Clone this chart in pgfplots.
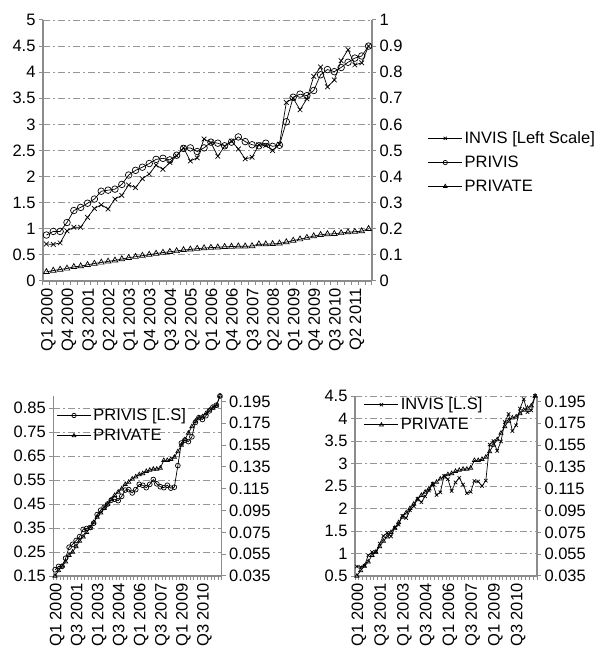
\documentclass[border=0pt]{standalone}
\usepackage{pgfplots}
\usepackage{pgfplotstable}
\pgfplotsset{compat=1.18}
\usepackage{fontspec}
\setmainfont{Liberation Sans}
\newcommand\cf{\fontsize{16.5bp}{19bp}\selectfont}
\definecolor{axgray}{RGB}{140,140,140}
\definecolor{gridgray}{RGB}{150,150,150}

\pgfplotstableread{
i invis privis private
0 0.71 0.176 0.035
1 0.70 0.190 0.040
2 0.73 0.190 0.044
3 0.96 0.224 0.048
4 1.03 0.270 0.054
5 1.03 0.282 0.057
6 1.22 0.298 0.062
7 1.39 0.314 0.067
8 1.46 0.344 0.071
9 1.38 0.348 0.075
10 1.57 0.352 0.079
11 1.64 0.370 0.084
12 1.84 0.406 0.089
13 1.79 0.424 0.093
14 1.96 0.436 0.097
15 2.05 0.450 0.101
16 2.22 0.466 0.105
17 2.14 0.470 0.109
18 2.27 0.464 0.112
19 2.40 0.482 0.115
20 2.55 0.508 0.119
21 2.30 0.510 0.121
22 2.36 0.496 0.124
23 2.72 0.510 0.126
24 2.65 0.532 0.128
25 2.39 0.528 0.129
26 2.58 0.518 0.131
27 2.68 0.532 0.132
28 2.53 0.552 0.133
29 2.34 0.534 0.133
30 2.37 0.522 0.134
31 2.61 0.518 0.141
32 2.60 0.528 0.141
33 2.50 0.516 0.142
34 2.62 0.520 0.144
35 3.42 0.610 0.149
36 3.50 0.704 0.155
37 3.28 0.716 0.160
38 3.49 0.710 0.166
39 3.92 0.730 0.172
40 4.10 0.790 0.177
41 3.72 0.810 0.180
42 3.85 0.802 0.181
43 4.22 0.818 0.184
44 4.43 0.838 0.187
45 4.14 0.854 0.189
46 4.18 0.862 0.191
47 4.50 0.900 0.200
}\data

\pgfplotsset{
  base/.style={
    scale only axis, anchor=south west,
    xmin=-0.5, xmax=47.5,
    axis line style={axgray, line width=1.3bp},
    every tick/.style={axgray, line width=1bp},
    tick align=outside,
    major tick length=4bp,
    tick label style={font=\cf, black},
    /pgf/number format/assume math mode=true,
    clip=false,
  },
  primary/.style={base,
    axis x line*=bottom, axis y line*=left,
    ymajorgrids,
    grid style={gridgray, dash pattern=on 7bp off 3bp on 2bp off 3bp, line width=0.8bp},
    xtick={-0.5,0.5,...,47.5}, xticklabels={},
    extra x tick style={tick style={draw=none}, tick label style={rotate=90, anchor=east, yshift=-2bp}},
  },
  secondary/.style={base,
    axis x line=none, axis y line*=right,
  },
  invis/.style={black, line width=0.7bp, mark=x, mark size=3.3bp, mark options={line width=0.7bp}},
  privis/.style={black, line width=0.7bp, mark=o, mark size=3.3bp, mark options={line width=0.7bp}},
  private/.style={black, line width=0.7bp, mark=triangle, mark size=3.3bp, mark options={line width=0.7bp}},
  lg/.style={legend style={draw=none, fill=none, font=\cf, inner sep=0pt, outer sep=0pt, row sep=3bp},
    legend cell align=left,
    legend image code/.code={\draw[mark repeat=2,mark phase=2,##1, mark size=2.2bp] plot coordinates {(0bp,0bp) (17bp,0bp) (34bp,0bp)};}},
}

\begin{document}
\begin{tikzpicture}
\useasboundingbox (0,0) rectangle (595bp,650bp);
% ---------- top panel ----------
\begin{axis}[primary, at={(43bp,369bp)}, width=329bp, height=261bp,
  ymin=0, ymax=5, ytick={0,0.5,1,1.5,2,2.5,3,3.5,4,4.5,5},
  extra x ticks={0,3,6,9,12,15,18,21,24,27,30,33,36,39,42,45},
  extra x tick labels={Q1 2000,Q4 2000,Q3 2001,Q2 2002,Q1 2003,Q4 2003,Q3 2004,Q2 2005,Q1 2006,Q4 2006,Q3 2007,Q2 2008,Q1 2009,Q4 2009,Q3 2010,Q2 2011}]
\addplot[invis] table[x=i,y=invis]{\data};
\end{axis}
\begin{axis}[secondary, lg, at={(43bp,369bp)}, width=329bp, height=261bp,
  ymin=0, ymax=1, ytick={0,0.1,0.2,0.3,0.4,0.5,0.6,0.7,0.8,0.9,1},
  legend style={at={(1.17,0.58)}, anchor=north west, row sep=7bp}]
\addlegendimage{invis}
\addlegendentry{INVIS [Left Scale]}
\addplot[privis] table[x=i,y=privis]{\data};
\addlegendentry{PRIVIS}
\addplot[private] table[x=i,y=private]{\data};
\addlegendentry{PRIVATE}
\end{axis}
% ---------- bottom left ----------
\begin{axis}[primary, at={(53.3bp,74bp)}, width=168.4bp, height=180bp,
  ymin=0.15, ymax=0.9, ytick={0.15,0.25,0.35,0.45,0.55,0.65,0.75,0.85},
  yticklabel style={/pgf/number format/.cd, fixed, precision=2},
  extra x ticks={0,6,12,18,24,30,36,42},
  extra x tick labels={Q1 2000,Q3 2001,Q1 2003,Q3 2004,Q1 2006,Q3 2007,Q1 2009,Q3 2010}]
\addplot[privis, mark size=2.4bp] table[x=i,y=privis]{\data};
\end{axis}
\begin{axis}[secondary, lg, at={(53.3bp,74bp)}, width=168.4bp, height=180bp,
  ymin=0.035, ymax=0.2, ytick={0.035,0.055,0.075,0.095,0.115,0.135,0.155,0.175,0.195},
  yticklabel style={/pgf/number format/.cd, fixed, precision=3},
  legend style={at={(0.02,0.94)}, anchor=north west}]
\addlegendimage{privis}
\addlegendentry{PRIVIS [L.S]}
\addplot[private, mark size=2.4bp] table[x=i,y=private]{\data};
\addlegendentry{PRIVATE}
\end{axis}
% ---------- bottom right ----------
\begin{axis}[primary, at={(355bp,74bp)}, width=182bp, height=180bp,
  ymin=0.5, ymax=4.5, ytick={0.5,1,1.5,2,2.5,3,3.5,4,4.5},
  extra x ticks={0,6,12,18,24,30,36,42},
  extra x tick labels={Q1 2000,Q3 2001,Q1 2003,Q3 2004,Q1 2006,Q3 2007,Q1 2009,Q3 2010}]
\addplot[invis, mark size=2.4bp] table[x=i,y=invis]{\data};
\end{axis}
\begin{axis}[secondary, lg, at={(355bp,74bp)}, width=182bp, height=180bp,
  ymin=0.035, ymax=0.2, ytick={0.035,0.055,0.075,0.095,0.115,0.135,0.155,0.175,0.195},
  yticklabel style={/pgf/number format/.cd, fixed, precision=3},
  legend style={at={(0.05,1.0)}, anchor=north west}]
\addlegendimage{invis}
\addlegendentry{INVIS [L.S]}
\addplot[private, mark size=2.4bp] table[x=i,y=private]{\data};
\addlegendentry{PRIVATE}
\end{axis}
\end{tikzpicture}
\end{document}
